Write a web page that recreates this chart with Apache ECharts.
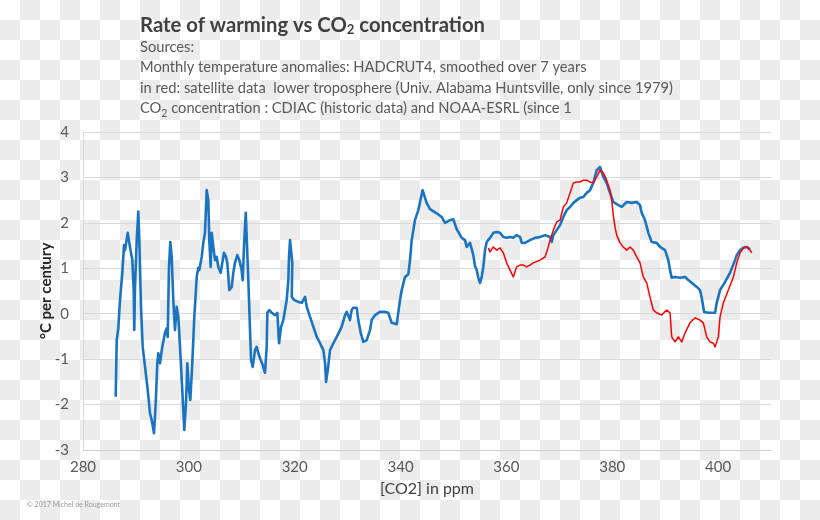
<!DOCTYPE html>
<html>
<head>
<meta charset="utf-8">
<script src="https://cdn.jsdelivr.net/npm/echarts@6/dist/echarts.min.js"></script>
<style>
html,body{margin:0;padding:0;}
body{
  width:820px;height:520px;
  background-color:#ffffff;
  background-image:
    linear-gradient(45deg,#ececec 25%,transparent 25%,transparent 75%,#ececec 75%),
    linear-gradient(45deg,#ececec 25%,transparent 25%,transparent 75%,#ececec 75%);
  background-size:40px 40px;
  background-position:0 0,20px 20px;
}
#chart{width:820px;height:520px;}
</style>
</head>
<body>
<div id="chart"></div>
<script>
// HADCRUT4 rate of warming (blue)
const blueCO2 = [286.18,286.37,286.67,286.99,287.43,287.75,287.94,288.45,288.88,289.32,289.58,289.69,289.83,290.15,290.45,290.64,290.96,291.28,291.72,292.23,292.66,292.98,293.42,293.74,294.04,294.23,294.55,294.98,295.50,295.82,296.00,296.25,296.50,296.76,297.06,297.38,297.70,298.01,298.33,298.76,299.14,299.46,299.71,300.03,300.28,300.65,301.03,301.49,301.79,301.98,302.43,302.73,303.05,303.37,303.68,303.86,304.13,304.32,304.62,304.94,305.26,305.57,306.02,306.32,306.64,307.02,307.27,307.65,308.10,308.40,308.72,309.16,309.54,309.99,310.18,310.42,310.75,311.05,311.24,311.56,311.75,312.07,312.50,312.82,313.13,313.58,313.96,314.39,314.71,314.83,315.20,315.66,316.28,316.72,316.90,317.04,317.42,317.85,318.49,318.80,318.93,319.12,319.44,319.55,319.44,319.93,320.69,321.33,321.96,322.28,322.90,323.53,324.17,324.79,325.42,325.74,325.93,326.25,326.68,327.31,327.95,328.87,329.51,329.83,330.45,330.77,331.07,331.72,332.02,332.47,332.97,333.61,334.23,334.55,335.18,336.12,337.07,337.69,338.33,339.28,339.90,340.22,340.85,341.47,341.79,342.11,342.73,343.36,344.17,344.93,345.57,346.83,347.77,348.40,349.35,349.97,350.61,351.56,352.18,352.50,353.13,353.75,354.07,354.39,354.70,355.02,355.34,355.64,355.96,356.28,356.91,357.53,358.17,358.80,359.42,360.05,360.69,361.31,361.93,362.58,362.90,363.52,364.47,365.41,366.36,367.30,368.25,368.57,368.87,369.51,370.14,370.76,371.40,372.03,372.65,373.30,373.92,374.54,375.17,375.80,376.42,377.07,377.69,378.32,378.94,379.58,380.20,381.15,381.79,382.73,383.68,384.62,385.25,385.57,386.19,386.82,387.46,388.41,389.03,389.98,390.60,390.92,391.24,391.87,392.81,393.76,394.38,395.02,395.97,396.59,396.91,397.35,398.16,399.43,399.75,400.37,401.32,402.26,403.21,403.53,404.15,404.78,405.42,406.04];
const blueRate = [-1.83,-0.58,-0.32,0.30,0.90,1.51,1.40,1.78,1.47,1.18,0.52,-0.36,0.59,1.62,2.25,1.62,0.15,-0.73,-1.17,-1.68,-2.19,-2.34,-2.63,-1.97,-1.09,-0.87,-1.09,-0.73,-0.42,-0.32,-0.51,1.03,1.58,1.25,0.30,-0.36,0.15,-0.07,-0.73,-1.68,-2.56,-1.97,-1.09,-1.68,-1.90,-1.09,-0.07,0.81,1.01,0.96,1.25,1.56,1.78,2.72,2.50,1.62,1.03,1.78,1.47,1.18,1.25,1.03,0.90,1.12,1.34,1.25,1.12,0.52,0.59,0.90,1.12,1.29,1.18,0.96,0.74,1.47,2.22,2.22,0.74,-0.36,-1.02,-1.17,-0.80,-0.73,-0.87,-1.02,-1.13,-1.30,-0.73,0.02,0.08,0.02,-0.03,0.02,-0.36,-0.65,-0.29,-0.14,0.30,0.74,1.25,1.62,1.62,1.12,0.37,0.30,0.26,0.24,0.37,0.15,-0.07,-0.29,-0.51,-0.65,-0.80,-1.09,-1.50,-1.24,-0.80,-0.65,-0.51,-0.29,-0.03,0.04,-0.14,0.08,0.13,0.13,-0.14,-0.42,-0.62,-0.58,-0.36,-0.14,-0.03,0.04,0.04,0.02,-0.20,-0.23,0.30,0.52,0.81,0.87,1.18,1.62,2.06,2.28,2.72,2.44,2.30,2.21,2.13,2.00,2.06,2.08,1.86,1.67,1.62,1.47,1.56,1.29,1.05,0.96,0.79,0.68,0.81,1.03,1.40,1.58,1.67,1.78,1.80,1.78,1.69,1.67,1.69,1.67,1.73,1.69,1.56,1.56,1.62,1.67,1.69,1.73,1.69,1.58,1.73,1.84,1.95,2.13,2.28,2.35,2.44,2.50,2.55,2.57,2.66,2.72,2.88,3.16,3.23,3.01,2.88,2.66,2.46,2.39,2.35,2.46,2.44,2.46,2.39,2.22,2.06,1.78,1.58,1.56,1.47,1.40,1.18,0.96,0.79,0.81,0.79,0.81,0.74,0.68,0.59,0.52,0.35,0.04,0.02,0.02,0.24,0.52,0.70,0.90,1.18,1.29,1.40,1.45,1.47,1.42];
// UAH satellite lower troposphere (red)
const redCO2 = [356.59,356.91,357.53,358.17,358.80,359.42,360.05,360.69,361.31,361.93,362.58,363.20,363.84,364.47,365.09,366.36,367.30,367.74,368.25,368.87,369.51,370.14,370.76,371.40,372.03,372.65,373.30,373.92,374.54,375.17,375.80,376.42,377.07,377.69,378.32,378.94,379.58,379.90,380.20,380.52,380.84,381.47,382.09,382.73,383.36,383.98,384.62,385.25,385.87,386.51,387.13,387.76,388.40,389.34,390.29,390.92,391.24,391.87,392.49,393.13,393.76,394.70,395.65,396.59,397.21,397.85,398.47,399.10,399.43,400.05,400.37,401.00,401.94,402.89,403.53,404.15,404.78,405.42,406.04,406.36];
const redRate = [1.45,1.36,1.47,1.40,1.45,1.34,1.12,0.96,0.81,1.03,1.07,1.07,1.03,1.07,1.12,1.18,1.25,1.40,1.62,1.84,2.02,2.06,2.35,2.44,2.66,2.88,2.90,2.90,2.94,2.94,2.90,2.88,3.01,3.16,3.10,2.94,2.72,2.50,2.17,1.91,1.73,1.56,1.47,1.40,1.47,1.40,1.25,1.12,0.81,0.68,0.37,0.08,0.02,-0.03,0.08,0.02,-0.51,-0.62,-0.51,-0.62,-0.42,-0.20,-0.09,-0.14,-0.20,-0.51,-0.62,-0.65,-0.73,-0.51,-0.07,0.24,0.52,0.81,1.12,1.34,1.45,1.47,1.40,1.34];

const titleText = 'Rate of warming vs CO{s|2} concentration';
const subLines = [
  'Sources:',
  'Monthly temperature anomalies: HADCRUT4, smoothed over 7 years',
  'in red: satellite data  lower troposphere (Univ. Alabama Huntsville, only since 1979)',
  'CO{s|2} concentration : CDIAC (historic data) and NOAA-ESRL (since 1'
];
const xName = '[CO2] in ppm';
const yName = '°C per century';
const credit = '© 2017 Michel de Rougemont';

const zip = (a, b) => a.map((v, i) => [v, b[i]]);
const FONT = 'Lato, "Open Sans", sans-serif';

const chart = echarts.init(document.getElementById('chart'), null, {renderer: 'canvas'});
chart.setOption({
  backgroundColor: 'transparent',
  animation: false,
  title: [
    {
      text: titleText,
      left: 135, top: 9,
      textStyle: {
        fontFamily: FONT, fontSize: 20.3, fontWeight: 'bold', color: '#404040',
        rich: { s: { fontFamily: FONT, fontSize: 13, fontWeight: 'bold', color: '#404040', verticalAlign: 'bottom', padding: [9, 0, 0, 0] } }
      }
    },
    {
      text: subLines.join('\n'),
      left: 135, top: 32,
      textStyle: {
        fontFamily: FONT, fontSize: 14.7, fontWeight: 'normal', color: '#595959', lineHeight: 20.5,
        rich: { s: { fontFamily: FONT, fontSize: 10.5, color: '#595959', verticalAlign: 'bottom', lineHeight: 20.5, padding: [7, 0, 0, 0] } }
      }
    }
  ],
  graphic: [{
    type: 'text', left: 27, top: 501,
    style: { text: credit, fontSize: 7, fontFamily: FONT, fill: '#9a9a9a' }
  }],
  grid: { left: 83, right: 49, top: 132, bottom: 70, containLabel: false },
  xAxis: {
    type: 'value', min: 280, max: 410, interval: 20,
    name: xName, nameLocation: 'middle', nameGap: 31, nameMoveOverlap: false,
    nameTextStyle: { fontFamily: FONT, fontSize: 16, color: '#404040' },
    axisLine: { show: true, onZero: false, lineStyle: { color: '#d0d0d0', width: 1 } },
    axisTick: { show: false },
    axisLabel: { fontFamily: FONT, fontSize: 15, color: '#595959', margin: 10, showMaxLabel: false },
    splitLine: { show: false }
  },
  yAxis: {
    type: 'value', min: -3, max: 4, interval: 1,
    name: yName, nameLocation: 'middle', nameGap: 29, nameMoveOverlap: false,
    nameTextStyle: { fontFamily: FONT, fontSize: 15, fontWeight: 'bold', color: '#262626' },
    axisLine: { show: true, lineStyle: { color: '#dcdcdc', width: 1 } },
    axisTick: { show: false },
    axisLabel: { fontFamily: FONT, fontSize: 15, color: '#595959', margin: 14 },
    splitLine: { show: true, lineStyle: { color: '#dadada', width: 1 } }
  },
  series: [
    {
      name: 'HADCRUT4', type: 'line', data: zip(blueCO2, blueRate),
      showSymbol: false, symbol: 'none',
      lineStyle: { color: '#1a74c1', width: 2.6, join: 'round' }, z: 2
    },
    {
      name: 'UAH', type: 'line', data: zip(redCO2, redRate),
      showSymbol: false, symbol: 'none',
      lineStyle: { color: '#ff0000', width: 1.5, join: 'round' }, z: 3
    }
  ]
});
</script>
</body>
</html>
